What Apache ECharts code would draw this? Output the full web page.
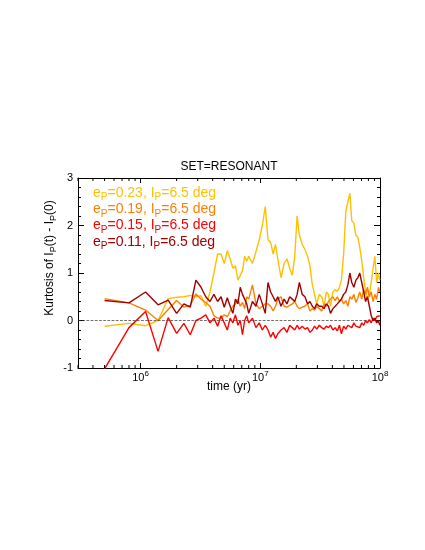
<!DOCTYPE html>
<html>
<head>
<meta charset="utf-8">
<title>SET=RESONANT</title>
<script src="https://cdn.jsdelivr.net/npm/echarts@6.0.0/dist/echarts.min.js"></script>
<style>
  html, body { margin: 0; padding: 0; background: #fff; }
  #chart { width: 425px; height: 550px; }
</style>
</head>
<body>
<div id="chart"></div>
<script>
// sample times, Myr
const timeMyr = [0.5, 0.8, 1.1, 1.4, 1.7, 2.0, 2.3, 2.6, 2.9, 3.2, 3.5, 3.8, 4.1, 4.4, 4.7, 5.0, 5.3, 5.6, 5.9, 6.2,
  6.5, 6.8, 7.1, 7.4, 7.7, 8.0, 8.6, 9.2, 9.8, 10.4, 11.0, 11.6, 12.2, 12.8, 13.4, 14.0, 14.9, 15.8, 16.7, 17.6,
  18.5, 19.4, 20.3, 21.2, 22.4, 23.6, 24.8, 26.0, 27.2, 28.4, 29.6, 31.1, 32.6, 34.1, 35.6, 37.1, 38.6, 40.4, 42.2, 44.0,
  45.8, 47.6, 49.7, 51.8, 53.9, 56.0, 58.1, 60.5, 62.9, 65.3, 67.7, 70.4, 73.1, 75.8, 78.5, 81.5, 84.5, 87.5, 90.5, 93.8,
  97.1, 99.5]

// kurtosis of I_P(t) - I_P(0), one list per eccentricity
const kurtE023 = [-0.12, -0.06, -0.11, 0.0, 0.46, 0.49, 0.5, 0.53, 0.5, 0.52, 0.3, 0.6, 1.0, 1.4, 1.4, 1.2, 1.47, 1.3, 1.1, 1.15,
  0.85, 0.95, 1.05, 1.35, 1.25, 1.35, 1.2, 1.45, 1.7, 2.0, 2.4, 1.7, 1.65, 1.4, 1.6, 1.3, 0.9, 1.2, 1.3, 1.1,
  0.95, 1.35, 2.2, 1.8, 1.6, 1.5, 1.35, 1.15, 0.75, 0.55, 0.35, 0.55, 0.5, 0.3, 0.6, 0.55, 0.3, 0.6, 0.65, 0.62,
  0.7, 0.85, 1.4, 2.3, 2.5, 2.68, 2.1, 2.05, 1.8, 1.75, 1.55, 1.25, 0.9, 0.6, 0.45, 0.55, 0.8, 1.1, 1.35, 0.8,
  1.0, 0.85]
const kurtE019 = [0.46, 0.37, 0.22, 0.0, 0.23, 0.42, 0.28, 0.32, 0.56, 0.45, 0.38, 0.3, 0.1, 0.05, 0.05, 0.12, 0.08, 0.2, 0.3, 0.35,
  0.45, 0.3, 0.38, 0.25, 0.5, 0.45, 0.75, 0.35, 0.25, 0.3, 0.35, 0.35, 0.3, 0.2, 0.3, 0.45, 0.5, 0.3, 0.28, 0.32,
  0.35, 0.4, 0.3, 0.25, 0.28, 0.3, 0.35, 0.2, 0.25, 0.22, 0.3, 0.25, 0.2, 0.35, 0.3, 0.4, 0.45, 0.5, 0.42, 0.5,
  0.4, 0.45, 0.35, 0.42, 0.3, 0.5, 0.45, 0.55, 0.38, 0.48, 0.6, 0.45, 0.65, 0.55, 0.7, 0.5, 0.6, 0.4, 0.55, 0.45,
  0.7, 0.6]
const kurtE015 = [-1.02, -0.15, 0.19, -0.65, 0.06, -0.27, -0.06, -0.3, 0.0, 0.05, 0.12, -0.05, 0.05, -0.12, 0.1, -0.05, -0.2, 0.05, -0.05, 0.12,
  -0.1, 0.0, -0.3, 0.0, 0.1, -0.05, 0.05, -0.15, -0.05, -0.2, -0.1, -0.2, -0.35, -0.25, -0.38, -0.28, -0.2, -0.15, -0.25, -0.1,
  -0.15, -0.2, -0.1, -0.18, -0.12, -0.18, -0.15, -0.25, -0.2, -0.12, -0.18, -0.1, -0.15, -0.18, -0.12, -0.15, -0.1, -0.2, -0.15, -0.22,
  -0.1, -0.28, -0.12, -0.18, -0.1, -0.08, -0.15, -0.05, -0.12, -0.08, -0.15, -0.05, -0.1, 0.0, -0.05, 0.02, -0.05, 0.05, 0.0, 0.08,
  0.05, 0.1]
const kurtE011 = [0.42, 0.37, 0.6, 0.33, 0.43, 0.15, 0.35, 0.28, 0.85, 0.7, 0.5, 0.4, 0.55, 0.4, 0.5, 0.28, 0.48, 0.3, 0.15, 0.45,
  0.35, 0.7, 0.55, 0.45, 0.35, 0.15, 0.4, 0.3, 0.55, 0.35, 0.15, 0.8, 0.6, 0.5, 0.4, 0.5, 0.3, 0.45, 0.35, 0.5,
  0.45, 0.4, 0.55, 0.8, 0.55, 0.5, 0.35, 0.4, 0.3, 0.25, 0.35, 0.3, 0.3, 0.25, 0.35, 0.3, 0.15, 0.25, 0.3, 0.35,
  0.4, 0.45, 0.55, 0.6, 0.75, 1.0, 0.8, 0.7, 0.85, 0.9, 1.0, 0.8, 0.6, 0.4, 0.5, 0.3, 0.1, 0.0, 0.05, -0.05,
  0.0, -0.1]

const eccLabels = ['0.23', '0.19', '0.15', '0.11']
const inclLabel = '6.5'
const seriesColors = ['#FFC000', '#FF8000', '#FF0000', '#A00000']
const kurtValues = [kurtE023, kurtE019, kurtE015, kurtE011]

// minor ticks on the log time axis
const minorTickValues = [3e5, 4e5, 5e5, 6e5, 7e5, 8e5, 9e5,
  2e6, 3e6, 4e6, 5e6, 6e6, 7e6, 8e6, 9e6,
  2e7, 3e7, 4e7, 5e7, 6e7, 7e7, 8e7, 9e7]

const FONT = 'Liberation Sans, Arial, Helvetica, sans-serif'
const Y_MIN = -1
const Y_MAX = 3

const chart = echarts.init(document.getElementById('chart'), null, { renderer: 'canvas' })

function logLabel(value) {
  const e = Math.round(Math.log10(value))
  if (Math.abs(value - Math.pow(10, e)) > 1e-6 * value) return ''
  return '{b|10}{s|' + e + '}'
}

const legendTexts = eccLabels.map(function(ecc, i) {
  const rich = {}
  rich['n'] = { fontSize: 14, fontFamily: FONT, fill: seriesColors[i] }
  rich['s'] = { fontSize: 10, fontFamily: FONT, fill: seriesColors[i], padding: [9, 0, 0, 0] }
  return {
    type: 'text',
    left: 93,
    top: 186 + i * 16.3,
    style: {
      text: '{n|e}{s|P}{n|=' + ecc + ', I}{s|P}{n|=' + inclLabel + ' deg}',
      rich: rich,
      fill: seriesColors[i]
    }
  }
})

const lineSeries = kurtValues.map(function(vals, i) {
  const s = {
    name: 'e=' + eccLabels[i],
    type: 'line',
    data: timeMyr.map(function(t, k) { return [t * 1e6, vals[k]] }),
    symbol: 'none',
    clip: true,
    lineStyle: { color: seriesColors[i], width: 1.4 },
    itemStyle: { color: seriesColors[i] },
    animation: false,
    z: 3 + i
  }
  if (i === 0) {
    s.markLine = {
      silent: true,
      symbol: ['none', 'none'],
      label: { show: false },
      lineStyle: { color: '#333', type: 'dashed', width: 0.7 },
      data: [{ yAxis: 0 }]
    }
  }
  return s
})

const minorTickSeries = {
  type: 'custom',
  silent: true,
  animation: false,
  clip: false,
  z: 10,
  data: minorTickValues.map(function(v) { return [v, 0] }),
  renderItem: function(params, api) {
    const bot = api.coord([api.value(0), Y_MIN])
    const top = api.coord([api.value(0), Y_MAX])
    const st = { stroke: '#000', lineWidth: 1 }
    return {
      type: 'group',
      children: [
        { type: 'line', shape: { x1: bot[0], y1: bot[1], x2: bot[0], y2: bot[1] - 3 }, style: st },
        { type: 'line', shape: { x1: top[0], y1: top[1], x2: top[0], y2: top[1] + 3 }, style: st }
      ]
    }
  }
}

const axisLineStyle = { show: true, onZero: false, lineStyle: { color: '#000', width: 1 } }

chart.setOption({
  backgroundColor: '#fff',
  animation: false,
  title: {
    text: 'SET=RESONANT',
    left: 229,
    top: 161,
    padding: 0,
    textAlign: 'center',
    textStyle: { fontSize: 12, fontWeight: 'normal', color: '#000', fontFamily: FONT }
  },
  grid: { left: 78, right: 45, top: 178, bottom: 182 },
  xAxis: [{
    type: 'log',
    logBase: 10,
    min: 3e5,
    max: 1e8,
    position: 'bottom',
    name: 'time (yr)',
    nameLocation: 'middle',
    nameGap: 13,
    nameMoveOverlap: false,
    nameTextStyle: { fontSize: 12, color: '#000', fontFamily: FONT },
    axisLine: axisLineStyle,
    axisTick: { show: true, inside: true, length: 5, lineStyle: { color: '#000' } },
    minorTick: { show: false },
    splitLine: { show: false },
    axisLabel: {
      margin: 2,
      formatter: logLabel,
      color: '#000',
      rich: {
        b: { fontSize: 11, fontFamily: FONT, color: '#000' },
        s: { fontSize: 8, fontFamily: FONT, color: '#000', padding: [0, 0, 8, 0] }
      }
    }
  }, {
    type: 'log',
    logBase: 10,
    min: 3e5,
    max: 1e8,
    position: 'top',
    axisLine: axisLineStyle,
    axisTick: { show: true, inside: true, length: 5, lineStyle: { color: '#000' } },
    axisLabel: { show: false },
    splitLine: { show: false }
  }],
  yAxis: [{
    type: 'value',
    min: Y_MIN,
    max: Y_MAX,
    interval: 1,
    position: 'left',
    axisLine: axisLineStyle,
    axisTick: { show: true, inside: true, length: 6, lineStyle: { color: '#000' } },
    minorTick: { show: true, splitNumber: 5, length: 3, lineStyle: { color: '#000' } },
    splitLine: { show: false },
    axisLabel: { margin: 5, fontSize: 11, color: '#000', fontFamily: FONT }
  }, {
    type: 'value',
    min: Y_MIN,
    max: Y_MAX,
    interval: 1,
    position: 'right',
    axisLine: axisLineStyle,
    axisTick: { show: true, inside: true, length: 6, lineStyle: { color: '#000' } },
    minorTick: { show: true, splitNumber: 5, length: 3, lineStyle: { color: '#000' } },
    splitLine: { show: false },
    axisLabel: { show: false }
  }],
  graphic: legendTexts.concat([{
    type: 'text',
    x: 50,
    y: 258,
    rotation: Math.PI / 2,
    style: {
      text: '{n|Kurtosis of I}{s|P}{n|(t) - I}{s|P}{n|(0)}',
      align: 'center',
      verticalAlign: 'middle',
      rich: {
        n: { fontSize: 12, fontFamily: FONT, fill: '#000' },
        s: { fontSize: 9, fontFamily: FONT, fill: '#000', padding: [7, 0, 0, 0] }
      }
    }
  }]),
  series: lineSeries.concat([minorTickSeries])
})
</script>
</body>
</html>
